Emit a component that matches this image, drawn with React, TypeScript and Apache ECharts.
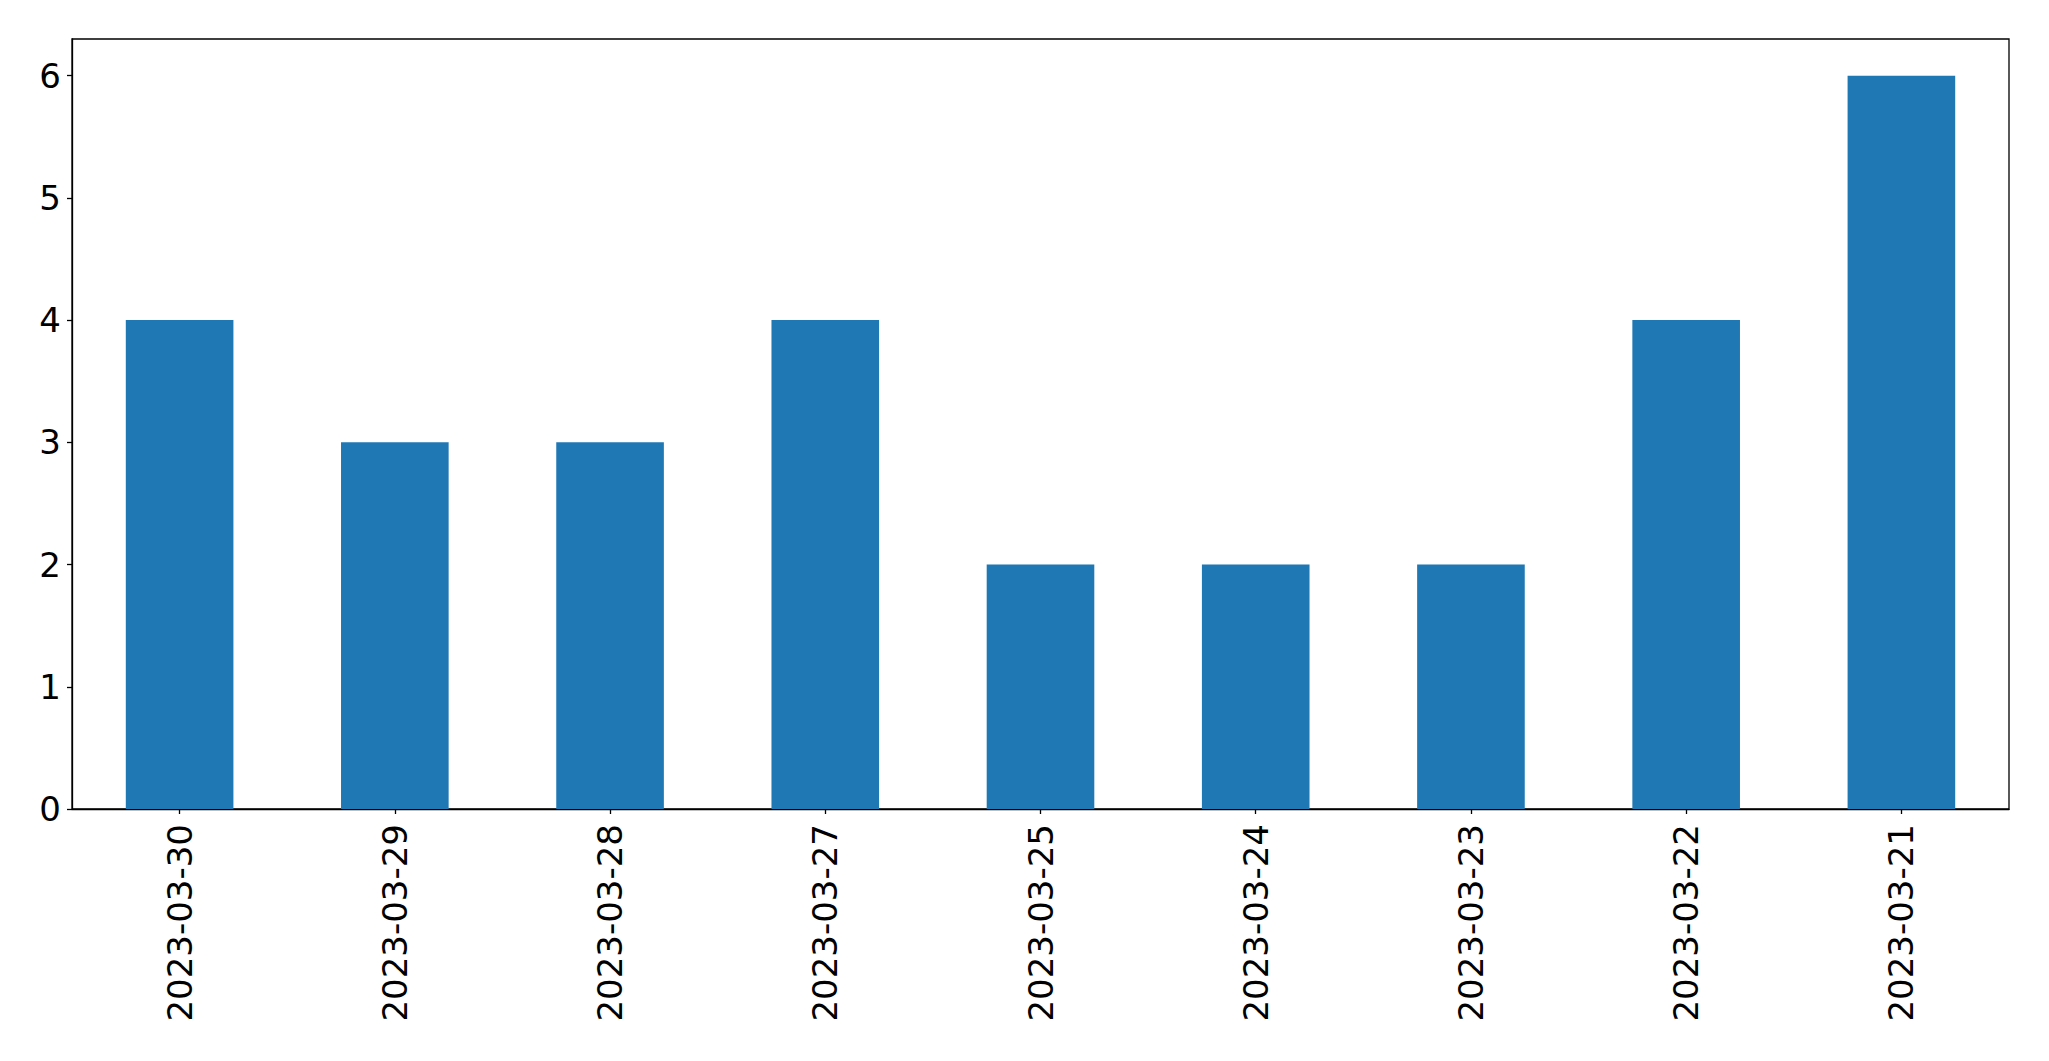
import React, { useEffect, useRef } from "react";
import * as echarts from "echarts";

const categories = [
  "2023-03-30",
  "2023-03-29",
  "2023-03-28",
  "2023-03-27",
  "2023-03-25",
  "2023-03-24",
  "2023-03-23",
  "2023-03-22",
  "2023-03-21",
];
const values = [4, 3, 3, 4, 2, 2, 2, 4, 6];
const yMin = 0;
const yMax = 6.3;
const yInterval = 1;

export default function App() {
  const ref = useRef<HTMLDivElement>(null);
  useEffect(() => {
    if (!ref.current) return;
    const chart = echarts.init(ref.current, undefined, { renderer: "svg" });
    const font = "DejaVu Sans";
    chart.setOption({
      animation: false,
      backgroundColor: "#ffffff",
      grid: {
        left: 72,
        right: 40,
        top: 39,
        bottom: 252,
        show: true,
        borderColor: "#000000",
        borderWidth: 1.3,
        backgroundColor: "transparent",
      },
      xAxis: {
        type: "category",
        data: categories,
        axisLine: { show: true, lineStyle: { color: "#000", width: 1.3 } },
        axisTick: { show: true, alignWithLabel: true, length: 5, lineStyle: { color: "#000", width: 1.3 } },
        axisLabel: {
          rotate: 90,
          margin: 15,
          fontFamily: font,
          fontSize: 34,
          color: "#000",
        },
        splitLine: { show: false },
      },
      yAxis: {
        type: "value",
        min: yMin,
        max: yMax,
        interval: yInterval,
        axisLine: { show: true, lineStyle: { color: "#000", width: 1.3 } },
        axisTick: { show: true, length: 5, lineStyle: { color: "#000", width: 1.3 } },
        axisLabel: {
          margin: 11,
          fontFamily: font,
          fontSize: 34,
          color: "#000",
          showMaxLabel: false,
          formatter: (v: number) => (Number.isInteger(v) ? String(v) : ""),
        },
        splitLine: { show: false },
      },
      series: [
        {
          type: "bar",
          data: values,
          barWidth: "50%",
          itemStyle: { color: "#1f77b4" },
        },
      ],
    });
    return () => chart.dispose();
  }, []);
  return (
    <div
      ref={ref}
      style={{ position: "fixed", left: 0, top: 0, width: 2049, height: 1061, background: "#fff" }}
    />
  );
}
